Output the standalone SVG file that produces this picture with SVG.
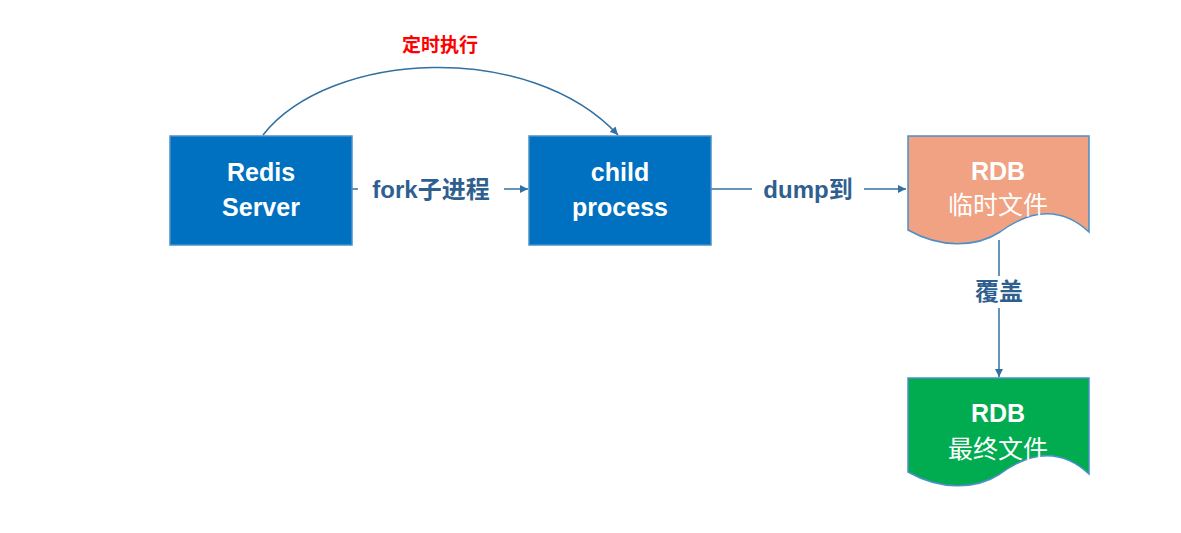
<svg xmlns="http://www.w3.org/2000/svg" width="1181" height="533" viewBox="0 0 1181 533">
<defs>
<style>
.box{fill:#0070c0;stroke:#4a90c8;stroke-width:1.5}
.w{fill:#fff;font-family:"Liberation Sans","Noto Sans CJK SC",sans-serif;font-weight:bold;font-size:25px;text-anchor:middle}
.wn{fill:#fff;font-family:"Liberation Sans","Noto Sans CJK SC",sans-serif;font-size:25px;text-anchor:middle}
.lbl{fill:#2f5f8f;font-family:"Liberation Sans","Noto Sans CJK SC",sans-serif;font-weight:bold;font-size:24px;text-anchor:middle}
.ln{fill:none;stroke:#31709f;stroke-width:1.5}
</style>
<marker id="a" viewBox="0 0 10 10" refX="10" refY="5" markerWidth="8" markerHeight="8" orient="auto" markerUnits="userSpaceOnUse"><path d="M0,0 L10,5 L0,10 z" fill="#31709f"/></marker>
</defs>
<rect width="1181" height="533" fill="#fff"/>
<g id="connectors">
<path class="ln" d="M263,135 C330,50 530,40 618,135" marker-end="url(#a)"/>
<text x="440" y="52" style="fill:#ff0000;font-family:'Liberation Sans','Noto Sans CJK SC',sans-serif;font-weight:bold;font-size:19px;text-anchor:middle">定时执行</text>
<path class="ln" d="M352,189 H528" marker-end="url(#a)"/>
<rect x="358" y="174" width="146" height="30" fill="#fff"/>
<text class="lbl" x="431" y="198">fork子进程</text>
<path class="ln" d="M711,189 H906" marker-end="url(#a)"/>
<rect x="752" y="174" width="112" height="30" fill="#fff"/>
<text class="lbl" x="808" y="198">dump到</text>
<path class="ln" d="M999,240 V377" marker-end="url(#a)"/>
<rect x="965" y="276" width="68" height="32" fill="#fff"/>
<text class="lbl" x="999" y="300">覆盖</text>
</g>
<g id="redis"><rect class="box" x="170" y="136" width="182" height="109"/>
<text class="w" x="261" y="181">Redis</text><text class="w" x="261" y="216">Server</text></g>
<g id="child"><rect class="box" x="529" y="136" width="182" height="109"/>
<text class="w" x="620" y="181">child</text><text class="w" x="620" y="216">process</text></g>
<g id="rdbtmp"><path d="M908,136 H1089 V232 C1060,205 1030,210 1000,232 C975,248 940,248 908,230 Z" fill="#f0a283" stroke="#4a90c8" stroke-width="1.5"/>
<text class="w" x="998" y="180">RDB</text><text class="wn" x="998" y="214">临时文件</text></g>
<g id="rdbfinal"><path d="M908,378 H1089 V474 C1060,447 1030,452 1000,474 C975,490 940,490 908,472 Z" fill="#00ac4f" stroke="#4a90c8" stroke-width="1.5"/>
<text class="w" x="998" y="422">RDB</text><text class="wn" x="998" y="458">最终文件</text></g>
</svg>
